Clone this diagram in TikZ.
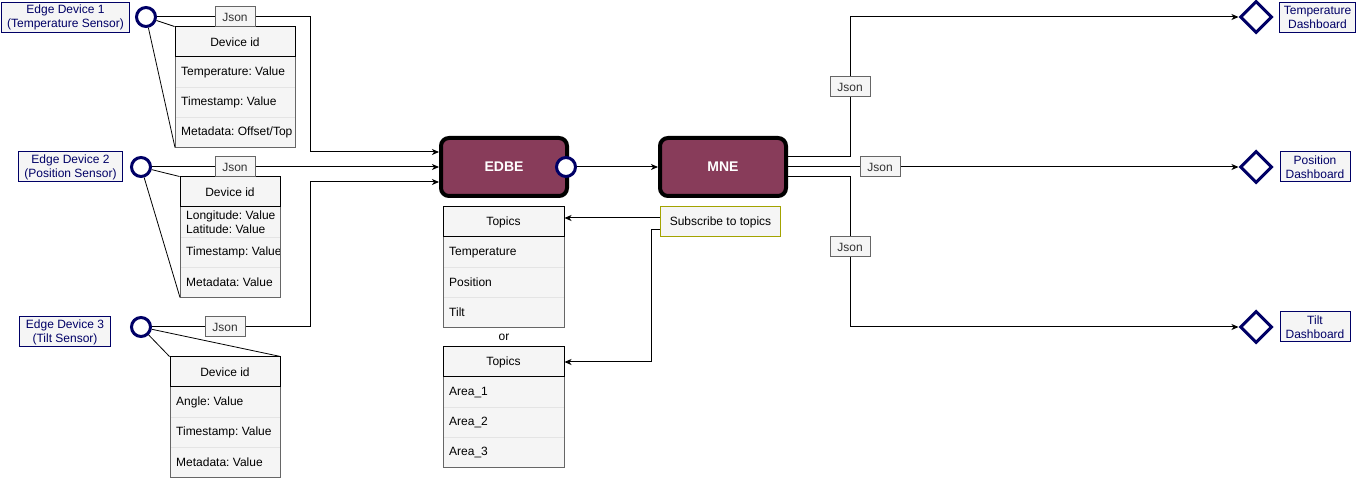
\documentclass[tikz,border=0pt]{standalone}
\usepackage{fontspec}
\setmainfont{Liberation Sans}
\usetikzlibrary{positioning,shapes.geometric,arrows.meta}
\definecolor{portblue}{RGB}{0,0,102}
\definecolor{panelgray}{HTML}{F5F5F5}
\definecolor{boxgray}{HTML}{666666}
\definecolor{textgray}{HTML}{333333}
\definecolor{sepgray}{HTML}{E4E4E4}
\definecolor{enginered}{HTML}{883C5A}
\definecolor{subolive}{HTML}{A3A300}
\begin{document}
\frenchspacing
\begin{tikzpicture}[x=1pt,y=-1pt,
    font=\fontsize{12}{14}\selectfont,
    devlabel/.style={draw=portblue,fill=panelgray,text=portblue,align=center,
      minimum height=30pt,inner xsep=6pt,inner ysep=0pt,line width=1pt},
    port/.style={circle,draw=portblue,fill=white,line width=3pt,
      minimum size=19pt,inner sep=0pt},
    sink/.style={diamond,aspect=1,draw=portblue,fill=white,line width=3pt,
      minimum size=32pt,inner sep=0pt},
    jsonbox/.style={draw=boxgray,fill=panelgray,text=textgray,line width=1pt,
      minimum width=40pt,minimum height=20pt,inner sep=0pt},
    engine/.style={draw=black,fill=enginered,text=white,line width=4pt,
      rounded corners=8pt,minimum width=126pt,minimum height=58pt,
      font=\fontsize{14}{16}\selectfont\bfseries},
    subbox/.style={draw=subolive,fill=panelgray,line width=1pt,
      minimum width=120pt,minimum height=30pt,inner sep=0pt},
    tablehead/.style={draw=black,fill=panelgray,line width=1pt,
      minimum height=30pt,inner sep=0pt},
    tablerow/.style={fill=panelgray,minimum width=#1,minimum height=30pt,
      inner sep=0pt,outer sep=0pt},
    rowtext/.style={anchor=west,inner xsep=6pt,inner ysep=0pt,align=left},
    bodyline/.style={draw=boxgray,line width=1pt},
    sepline/.style={draw=sepgray,line width=1pt},
    wire/.style={draw=black,line width=1pt},
    flow/.style={wire,-{Stealth[length=7pt,width=6pt,inset=2pt]}},
    tie/.style={draw=black,line width=0.8pt}]
  \useasboundingbox (0,0) rectangle (1361,478);

  % edge devices
  \node[devlabel] (dev1) at (65.5,17.5) {Edge Device 1\\(Temperature Sensor)};
  \node[devlabel] (dev2) at (70.5,167) {Edge Device 2\\(Position Sensor)};
  \node[devlabel] (dev3) at (65,332) {Edge Device 3\\(Tilt Sensor)};

  % payload tables
  \node[tablehead,minimum width=120pt] (t1h) at (235,42) {Device id};
  \node[tablerow=120pt,below=0pt of t1h,label={[rowtext]west:{Temperature: Value}}] (t1a) {};
  \node[tablerow=120pt,below=0pt of t1a,label={[rowtext]west:{Timestamp: Value}}] (t1b) {};
  \node[tablerow=120pt,below=0pt of t1b,label={[rowtext]west:{Metadata: Offset/Top}}] (t1c) {};

  \node[tablehead,minimum width=100pt] (t2h) at (230,192) {Device id};
  \begin{scope}
    \clip (180,177) rectangle (280.5,298);
    \node[tablerow=100pt,below=0pt of t2h,label={[rowtext]west:{Longitude: Value\\Latitude: Value}}] (t2a) {};
    \node[tablerow=100pt,below=0pt of t2a,label={[rowtext]west:{Timestamp: Value}}] (t2b) {};
    \node[tablerow=100pt,below=0pt of t2b,label={[rowtext]west:{Metadata: Value}}] (t2c) {};
  \end{scope}

  \node[tablehead,minimum width=110pt] (t3h) at (225,372) {Device id};
  \node[tablerow=110pt,below=0pt of t3h,label={[rowtext]west:{Angle: Value}}] (t3a) {};
  \node[tablerow=110pt,below=0pt of t3a,label={[rowtext]west:{Timestamp: Value}}] (t3b) {};
  \node[tablerow=110pt,below=0pt of t3b,label={[rowtext]west:{Metadata: Value}}] (t3c) {};

  % topic tables
  \node[tablehead,minimum width=121pt] (t4h) at (503.5,222) {Topics};
  \node[tablerow=121pt,below=0pt of t4h,label={[rowtext]west:Temperature}] (t4a) {};
  \node[tablerow=121pt,below=0pt of t4a,label={[rowtext]west:Position}] (t4b) {};
  \node[tablerow=121pt,below=0pt of t4b,label={[rowtext]west:Tilt}] (t4c) {};
  \node (or) at (504,337) {or};
  \node[tablehead,minimum width=121pt] (t5h) at (503.5,362) {Topics};
  \node[tablerow=121pt,below=0pt of t5h,label={[rowtext]west:Area\_1}] (t5a) {};
  \node[tablerow=121pt,below=0pt of t5a,label={[rowtext]west:Area\_2}] (t5b) {};
  \node[tablerow=121pt,below=0pt of t5b,label={[rowtext]west:Area\_3}] (t5c) {};

  \foreach \t in {t1,t2,t3,t4,t5} {
    \draw[sepline] (\t a.south west) -- (\t a.south east);
    \draw[sepline] (\t b.south west) -- (\t b.south east);
    \draw[bodyline] (\t a.north west) -- (\t c.south west)
      -- (\t c.south east) -- (\t a.north east);
  }

  % device ports
  \node[port] (c1) at (146,17) {};
  \node[port] (c2) at (141,167) {};
  \node[port] (c3) at (141,327) {};
  \draw[tie] (c1) -- (t1h.north west);
  \draw[tie] (c1) -- (t1c.south west);
  \draw[tie] (c2) -- (t2h.north west);
  \draw[tie] (c2) -- (t2c.south west);
  \draw[tie] (c3) -- (t3h.north west);
  \draw[tie] (c3) -- (t3h.north east);

  % engines
  \node[engine] (edbe) at (504,167) {EDBE};
  \node[engine] (mne) at (723,167) {MNE};
  \node[port] (eport) at (566,167) {};
  \node[subbox] (sub) at (720.5,222) {Subscribe to topics};

  \coordinate (busL) at (310,0);
  \coordinate (edbeA) at ([yshift=15pt]edbe.west);
  \coordinate (edbeC) at ([yshift=-15pt]edbe.west);
  \coordinate (mneA) at ([yshift=10pt]mne.east);
  \coordinate (mneC) at ([yshift=-10pt]mne.east);
  \coordinate (subA) at ([yshift=4pt]sub.west);
  \coordinate (subB) at ([yshift=-8pt]sub.west);

  % json labels
  \node[jsonbox] (json1) at (235,17) {Json};
  \node[jsonbox] (json2) at (235,167) {Json};
  \node[jsonbox] (json3) at (225,327) {Json};
  \node[jsonbox] (jsonT) at (850,87) {Json};
  \node[jsonbox] (jsonM) at (880,167) {Json};
  \node[jsonbox] (jsonB) at (850,247) {Json};

  % dashboards
  \node[sink] (sinkT) at (1256,17) {};
  \node[sink] (sinkM) at (1256,167) {};
  \node[sink] (sinkB) at (1256,327) {};
  \node[devlabel,inner xsep=4pt] (dashT) at (1317.5,17.5) {Temperature\\Dashboard};
  \node[devlabel,minimum width=70pt,inner xsep=2pt] (dashM) at (1315,167) {Position\\Dashboard};
  \node[devlabel,minimum width=70pt,inner xsep=2pt] (dashB) at (1315,327) {Tilt\\Dashboard};

  % connectors
  \draw[wire] (c1) -- (json1);
  \draw[flow] (json1) -| (busL |- edbeA) -- (edbeA);
  \draw[wire] (c2) -- (json2);
  \draw[flow] (json2) -- (edbe);
  \draw[wire] (c3) -- (json3);
  \draw[flow] (json3) -| (busL |- edbeC) -- (edbeC);
  \draw[flow] (eport) -- (mne);
  \draw[wire] (mneA) -| (jsonT);
  \draw[flow] (jsonT) |- (sinkT);
  \draw[wire] (mne) -- (jsonM);
  \draw[flow] (jsonM) -- (sinkM);
  \draw[wire] (mneC) -| (jsonB);
  \draw[flow] (jsonB) |- (sinkB);
  \draw[flow] (subA) -- (subA -| t4h.east);
  \draw[flow] (subB) -- ++(-9,0) |- (t5h.east);
\end{tikzpicture}
\end{document}
